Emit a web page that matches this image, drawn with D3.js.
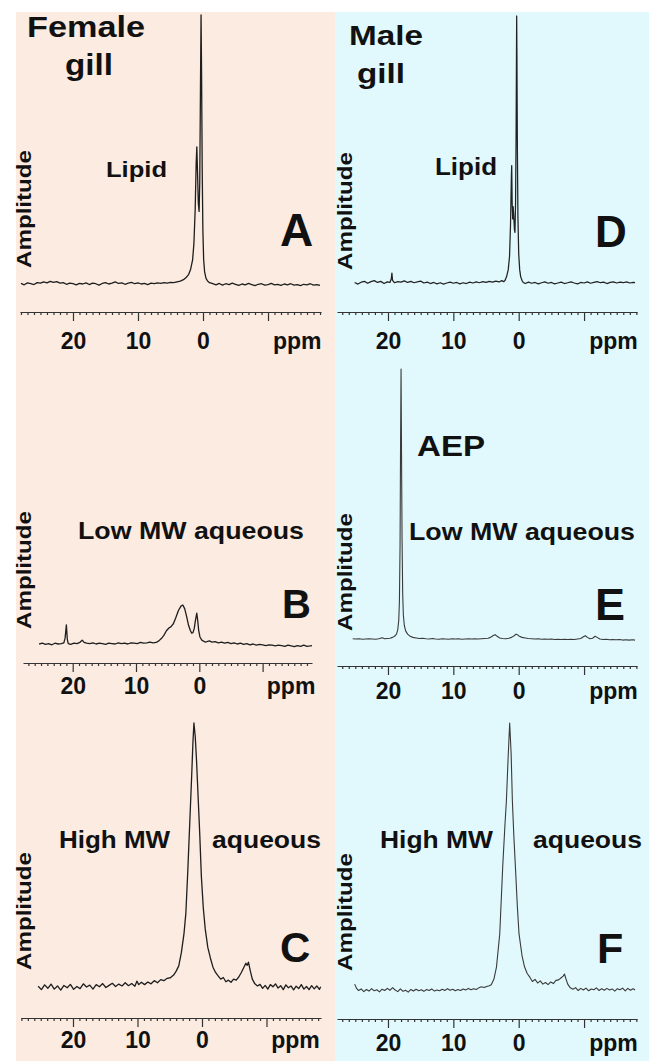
<!DOCTYPE html>
<html>
<head>
<meta charset="utf-8">
<script src="https://cdn.jsdelivr.net/npm/d3@7"></script>
<style>
  body { margin: 0; background: #fff; }
  svg { display: block; }
  text { font-family: "Liberation Sans", Arial, sans-serif; font-weight: bold; fill: #111; }
  .axis path, .axis line { stroke: #333; stroke-width: 1.2; }
</style>
</head>
<body>
<div class="chart"></div>
<script>
// 31P NMR spectra, gill extracts

// DATA -------------------------------
// [ppm, amplitude] with amplitude 0 = baseline, 100 = tallest peak of the panel

const femaleLipid = [[28.0,0.2],[27.5,-0.3],[27.0,0.4],[26.5,0.1],[26.0,-0.2],[25.5,0.5],[25.0,0.3],[24.5,0.8],[24.0,0.4],[23.5,1.0],[23.0,0.6],[22.5,0.9],[22.0,0.3],[21.5,0.5],[21.0,-0.1],[20.5,0.3],[20.0,0.1],[19.5,-0.3],[19.0,0.2],[18.5,0.0],[18.0,0.4],[17.5,-0.2],[17.0,0.3],[16.5,0.1],[16.0,-0.4],[15.5,0.2],[15.0,0.5],[14.5,0.0],[14.0,0.3],[13.5,0.8],[13.0,0.2],[12.5,0.4],[12.0,-0.1],[11.5,0.3],[11.0,0.6],[10.5,0.1],[10.0,0.4],[9.5,0.0],[9.0,0.2],[8.5,-0.2],[8.0,0.3],[7.5,0.1],[7.0,0.4],[6.5,0.2],[6.0,0.5],[5.5,0.3],[5.0,0.6],[4.5,0.5],[4.0,0.8],[3.5,1.1],[3.0,1.6],[2.6,2.4],[2.2,3.6],[1.9,5.5],[1.6,9],[1.4,15],[1.2,28],[1.05,45],[0.95,51],[0.85,42],[0.72,30],[0.6,27],[0.5,38],[0.4,70],[0.3,100],[0.22,78],[0.12,42],[0.02,20],[-0.1,9],[-0.25,4.5],[-0.45,2.2],[-0.7,1.1],[-1.0,0.5],[-1.5,0.1],[-2.0,-0.3],[-2.5,0.2],[-3.0,-0.4],[-3.5,0.1],[-4.0,-0.2],[-4.5,0.3],[-5.0,-0.1],[-5.5,-0.5],[-6.0,0.0],[-6.5,-0.3],[-7.0,0.2],[-7.5,-0.2],[-8.0,-0.6],[-8.5,-0.1],[-9.0,0.1],[-9.5,-0.4],[-10.0,-0.2],[-10.5,0.2],[-11.0,-0.3],[-11.5,-0.1],[-12.0,-0.5],[-12.5,0.0],[-13.0,-0.3],[-13.5,0.1],[-14.0,-0.4],[-14.5,-0.2],[-15.0,-0.6],[-15.5,-0.1],[-16.0,-0.3],[-16.5,0.1],[-17.0,-0.4],[-17.5,-0.2],[-18.0,-0.5]];

const femaleLowMW = [[25.3,0],[24.8,2],[24.3,-1],[23.8,1],[23.3,-2],[22.8,2],[22.3,0],[21.8,1],[21.4,3],[21.2,15],[21.0,49],[20.85,12],[20.7,1],[20.3,-1],[19.8,2],[19.3,1],[18.8,5],[18.5,10],[18.2,4],[17.8,2],[17.3,1],[16.8,3],[16.3,0],[15.8,2],[15.3,1],[14.8,-1],[14.3,2],[13.8,1],[13.3,0],[12.8,3],[12.3,1],[11.8,2],[11.3,0],[10.8,3],[10.3,2],[9.8,1],[9.3,4],[8.8,2],[8.3,3],[7.8,5],[7.3,3],[6.8,4],[6.4,8],[6.0,14],[5.6,22],[5.2,34],[4.8,41],[4.5,44],[4.1,52],[3.7,68],[3.3,86],[2.9,97],[2.6,100],[2.3,90],[2.0,70],[1.7,48],[1.4,34],[1.2,28],[1.0,29],[0.8,40],[0.6,62],[0.4,79],[0.25,60],[0.1,35],[-0.1,18],[-0.4,10],[-0.9,5],[-1.2,6],[-1.6,8],[-2.0,5],[-2.5,6],[-3.0,3],[-3.5,5],[-4.0,2],[-4.5,4],[-5.0,1],[-5.5,3],[-6.0,0],[-6.5,2],[-7.0,-1],[-7.5,1],[-8.0,-2],[-8.5,0],[-9.0,-3],[-9.5,-1],[-10.0,-2],[-10.5,-4],[-11.0,-2],[-11.5,-3],[-12.0,-5],[-12.5,-3],[-13.0,-4],[-13.5,-6],[-14.0,-3],[-14.5,-5],[-15.0,-7],[-15.5,-4],[-16.0,-6],[-16.5,-3],[-17.0,-6],[-17.5,-5],[-17.8,-4]];

const femaleHighMW = [[25.4,0.3],[24.9,-1.0],[24.4,0.8],[23.9,-0.5],[23.4,1.1],[22.9,-0.8],[22.4,0.4],[21.9,-1.2],[21.4,0.6],[20.9,-0.3],[20.4,1.0],[19.9,-0.9],[19.4,0.2],[18.9,-0.6],[18.4,1.2],[17.9,0.0],[17.4,0.7],[16.9,-0.8],[16.4,0.9],[15.9,0.1],[15.4,1.3],[14.9,-0.2],[14.4,0.6],[13.9,1.4],[13.4,0.2],[12.9,1.1],[12.4,0.4],[11.9,1.6],[11.4,0.5],[10.9,1.3],[10.4,0.3],[10.1,2.2],[9.8,0.9],[9.4,1.8],[8.9,0.9],[8.4,1.9],[7.9,1.2],[7.4,2.4],[6.9,1.6],[6.4,2.8],[5.9,2.4],[5.4,3.3],[4.9,3.5],[4.4,4.5],[4.0,6],[3.6,8],[3.2,13],[2.8,20],[2.5,28],[2.2,44],[1.9,62],[1.6,80],[1.4,93],[1.25,100],[1.05,95],[0.85,86],[0.6,72],[0.35,58],[0.1,42],[-0.2,30],[-0.5,22],[-0.9,15],[-1.3,11],[-1.7,7.5],[-2.1,5.5],[-2.5,4.2],[-2.9,3.0],[-3.3,3.6],[-3.7,2.0],[-4.1,2.6],[-4.5,1.8],[-4.9,3.0],[-5.3,2.6],[-5.7,3.8],[-6.1,5.5],[-6.5,7.5],[-6.8,9.0],[-7.0,8.2],[-7.2,9.4],[-7.5,6.0],[-7.8,3.0],[-8.2,1.2],[-8.6,0.4],[-9.0,1.0],[-9.4,-0.5],[-9.8,0.6],[-10.2,-0.8],[-10.6,0.9],[-11.0,0.1],[-11.4,1.2],[-11.8,-0.4],[-12.2,0.5],[-12.6,-1.0],[-13.0,0.8],[-13.4,-0.3],[-13.8,0.4],[-14.2,-1.1],[-14.6,0.3],[-15.0,-0.6],[-15.4,0.9],[-15.8,-0.8],[-16.2,0.2],[-16.6,-1.0],[-17.0,0.5],[-17.4,-0.7],[-17.8,0.4],[-18.2,-0.9],[-18.4,0.1]];

const maleLipid = [[25.1,0.2],[24.6,-0.4],[24.1,0.3],[23.6,0.6],[23.1,-0.1],[22.6,0.5],[22.1,0.9],[21.6,0.2],[21.1,0.6],[20.6,-0.2],[20.1,0.4],[19.7,0.2],[19.5,1.5],[19.4,3.7],[19.3,1.0],[19.0,0.1],[18.5,0.5],[18.0,0.3],[17.5,0.8],[17.0,0.2],[16.5,0.6],[16.0,0.1],[15.5,0.4],[15.0,0.7],[14.5,0.0],[14.0,0.3],[13.5,-0.2],[13.0,0.2],[12.5,-0.3],[12.0,0.1],[11.5,-0.4],[11.0,0.0],[10.5,0.3],[10.0,-0.1],[9.5,0.2],[9.0,-0.3],[8.5,0.1],[8.0,-0.2],[7.5,0.3],[7.0,0.0],[6.5,0.4],[6.0,0.1],[5.5,0.5],[5.0,0.2],[4.5,0.6],[4.0,0.3],[3.5,0.7],[3.0,0.4],[2.6,0.9],[2.3,0.5],[2.1,0.9],[1.85,2.4],[1.6,5],[1.4,10],[1.25,22],[1.12,40],[1.07,44],[1.0,30],[0.92,24],[0.85,28.6],[0.78,26],[0.65,20],[0.57,19],[0.48,30],[0.4,55],[0.34,85],[0.31,100],[0.27,85],[0.2,50],[0.12,25],[0.0,11],[-0.15,5],[-0.3,2.4],[-0.5,1.0],[-0.7,0.2],[-1.0,-0.2],[-1.5,0.3],[-2.0,-0.1],[-2.5,0.2],[-3.0,-0.3],[-3.5,0.1],[-4.0,0.4],[-4.5,-0.1],[-5.0,0.2],[-5.5,-0.3],[-6.0,0.0],[-6.5,0.3],[-7.0,-0.2],[-7.5,0.1],[-8.0,0.4],[-8.5,0.0],[-9.0,-0.3],[-9.5,0.2],[-10.0,0.0],[-10.5,0.4],[-11.0,-0.1],[-11.5,0.2],[-12.0,0.5],[-12.5,0.1],[-13.0,0.3],[-13.5,-0.2],[-14.0,0.2],[-14.5,0.4],[-15.0,0.0],[-15.5,0.3],[-16.0,0.1],[-16.5,0.4],[-17.0,0.0],[-17.5,0.2],[-17.8,0.1]];

const maleLowMW = [[25.4,0.1],[24.9,0.0],[24.4,0.1],[23.9,-0.1],[23.4,0.0],[22.9,0.1],[22.4,0.0],[21.9,-0.1],[21.4,0.1],[20.9,0.5],[20.5,0.1],[20.1,0.2],[19.7,0.3],[19.3,0.6],[19.0,1.0],[18.7,1.8],[18.5,3.5],[18.35,7],[18.25,14],[18.15,35],[18.08,70],[18.0,100],[17.93,70],[17.85,38],[17.75,17],[17.65,9],[17.5,5],[17.3,3],[17.0,1.8],[16.6,1.0],[16.2,0.6],[15.7,0.4],[15.2,0.2],[14.7,0.3],[14.2,0.1],[13.7,0.0],[13.2,0.2],[12.7,0.0],[12.2,-0.1],[11.7,0.1],[11.2,0.0],[10.7,-0.1],[10.2,0.1],[9.7,0.0],[9.2,0.1],[8.7,-0.1],[8.2,0.0],[7.7,0.1],[7.2,0.0],[6.7,0.1],[6.2,0.0],[5.7,0.1],[5.2,0.2],[4.7,0.3],[4.3,0.6],[3.9,1.3],[3.6,1.6],[3.3,1.0],[2.9,0.4],[2.5,0.2],[2.0,0.1],[1.5,0.3],[1.1,0.6],[0.7,1.2],[0.4,1.8],[0.2,1.6],[-0.1,1.0],[-0.5,0.6],[-1.0,0.4],[-1.5,0.2],[-2.0,0.1],[-2.5,0.0],[-3.0,0.1],[-3.5,-0.1],[-4.0,0.0],[-4.5,-0.1],[-5.0,0.0],[-5.5,-0.2],[-6.0,-0.1],[-6.5,-0.2],[-7.0,-0.1],[-7.5,-0.2],[-8.0,-0.1],[-8.5,-0.2],[-9.0,0.0],[-9.5,0.2],[-9.9,0.8],[-10.2,1.2],[-10.5,0.6],[-10.9,0.1],[-11.3,0.3],[-11.7,1.0],[-12.0,0.6],[-12.4,0.0],[-12.9,-0.2],[-13.4,-0.1],[-13.9,-0.3],[-14.4,-0.2],[-14.9,-0.3],[-15.4,-0.2],[-15.9,-0.4],[-16.4,-0.3],[-16.9,-0.4],[-17.4,-0.3],[-17.8,-0.4]];

const maleHighMW = [[25.1,2.2],[24.8,0.6],[24.5,-0.2],[24.1,0.4],[23.7,-0.6],[23.3,0.2],[22.9,-0.4],[22.5,0.5],[22.1,-0.3],[21.7,0.1],[21.3,-0.7],[20.9,0.3],[20.5,-0.2],[20.1,0.6],[19.7,-0.1],[19.3,0.9],[18.9,0.0],[18.5,-0.6],[18.1,0.4],[17.7,-0.5],[17.3,-0.1],[16.9,-0.8],[16.5,0.2],[16.1,-0.4],[15.7,0.3],[15.3,-0.3],[14.9,0.1],[14.5,-0.5],[14.1,0.2],[13.7,-0.2],[13.3,0.4],[12.9,-0.4],[12.5,0.0],[12.1,-0.3],[11.7,0.3],[11.3,-0.2],[10.9,0.5],[10.5,-0.1],[10.1,0.3],[9.7,-0.3],[9.3,0.2],[8.9,-0.2],[8.5,0.4],[8.1,0.0],[7.7,0.6],[7.3,0.1],[6.9,0.5],[6.5,0.2],[6.1,0.8],[5.7,1.2],[5.3,0.9],[4.9,1.3],[4.5,1.6],[4.2,2.0],[3.8,4],[3.4,8.6],[2.9,21],[2.45,46],[2.1,62],[1.88,71],[1.6,88],[1.38,100],[1.15,88],[0.97,71],[0.75,58],[0.5,46],[0.2,31],[-0.05,21],[-0.5,13],[-0.9,8.6],[-1.3,6.2],[-1.7,4.8],[-2.1,3.2],[-2.5,4.0],[-2.9,2.6],[-3.3,3.4],[-3.7,2.2],[-4.1,2.8],[-4.5,2.0],[-4.9,3.0],[-5.3,2.4],[-5.7,3.6],[-6.1,3.8],[-6.5,4.6],[-6.8,5.2],[-7.0,6.0],[-7.2,4.4],[-7.5,2.2],[-7.9,0.8],[-8.3,0.3],[-8.7,0.9],[-9.1,-0.2],[-9.5,0.6],[-9.9,0.0],[-10.3,0.7],[-10.7,-0.3],[-11.1,0.4],[-11.5,0.1],[-11.9,0.8],[-12.3,-0.2],[-12.7,0.5],[-13.1,-0.1],[-13.5,0.6],[-13.9,0.0],[-14.3,0.4],[-14.7,-0.4],[-15.1,0.5],[-15.5,0.1],[-15.9,0.7],[-16.3,-0.3],[-16.7,0.6],[-17.1,-0.1],[-17.5,0.5],[-17.8,0.0]];

const majorTicks = [20, 10, 0, -10];
const tickLabels = {"20": "20", "10": "10", "0": "0"};
const unitLabel = "ppm";

// LAYOUT -----------------------------

const W = 649, H = 1061;
const bgFemale = "#fbebe1", bgMale = "#e1f9fc";

const panels = [
  {letter: "A", data: femaleLipid, ppm: [28.15, -18.15], px: [20, 321], base: 284, top: 15, axisY: 312, pad: 12, stroke: "#1e1e1e", sw: 1.3,
   amp: [31, 209], letterPos: [280, 246, 46],
   labels: [{t: "Female", x: 27, y: 37, s: 29, len: 118}, {t: "gill", x: 65, y: 75, s: 29, len: 48}, {t: "Lipid", x: 106, y: 177, s: 22, len: 61}]},
  {letter: "B", data: femaleLowMW, ppm: [27.85, -17.8], px: [23, 312], base: 644, top: 605, axisY: 663, pad: 6, stroke: "#1e1e1e", sw: 1.3,
   amp: [31, 570], letterPos: [282, 618, 40],
   labels: [{t: "Low MW aqueous", x: 78, y: 539, s: 24, len: 226}]},
  {letter: "C", data: femaleHighMW, ppm: [28.06, -18.45], px: [21, 321], base: 987, top: 723, axisY: 1018, pad: 5, stroke: "#1e1e1e", sw: 1.3,
   amp: [31, 911], letterPos: [280, 962, 42],
   labels: [{t: "High MW", x: 59, y: 848, s: 23, len: 111}, {t: "aqueous", x: 212, y: 848, s: 23, len: 109}]},
  {letter: "D", data: maleLipid, ppm: [27.8, -18.1], px: [337, 637], base: 283, top: 16, axisY: 312, pad: 12, stroke: "#222", sw: 1.25,
   amp: [352, 211], letterPos: [595, 247, 44],
   labels: [{t: "Male", x: 349, y: 45, s: 28, len: 74}, {t: "gill", x: 357, y: 83, s: 28, len: 48}, {t: "Lipid", x: 435, y: 175, s: 24, len: 62}]},
  {letter: "E", data: maleLowMW, ppm: [27.8, -18.1], px: [337, 637], base: 639, top: 369, axisY: 666, pad: 8, stroke: "#3a3a3a", sw: 1.1,
   amp: [352, 572], letterPos: [595, 620, 45],
   labels: [{t: "AEP", x: 417, y: 456, s: 29, len: 68}, {t: "Low MW aqueous", x: 409, y: 540, s: 24, len: 226}]},
  {letter: "F", data: maleHighMW, ppm: [27.8, -18.1], px: [337, 637], base: 990, top: 723, axisY: 1019, pad: 7, stroke: "#3a3a3a", sw: 1.1,
   amp: [352, 912], letterPos: [597, 963, 43],
   labels: [{t: "High MW", x: 380, y: 848, s: 23, len: 113}, {t: "aqueous", x: 533, y: 848, s: 23, len: 109}]}
];

const svg = d3.select(".chart")
  .append("svg")
  .attr("width", W)
  .attr("height", H);

svg.append("rect").attr("x", 16).attr("y", 12).attr("width", 319).attr("height", H - 12).attr("fill", bgFemale);
svg.append("rect").attr("x", 335).attr("y", 12).attr("width", W - 335).attr("height", H - 12).attr("fill", bgMale);

// PANELS -----------------------------

panels.forEach(p => {
  const g = svg.append("g").attr("class", "panel-" + p.letter);

  const x = d3.scaleLinear().domain(p.ppm).range(p.px);
  const y = d3.scaleLinear().domain([0, 100]).range([p.base, p.top]);

  const lo = Math.ceil(Math.min(...p.ppm)), hi = Math.floor(Math.max(...p.ppm));
  const minor = d3.range(lo, hi + 1).filter(v => v % 10 !== 0);

  const minorAxis = d3.axisBottom(x)
    .tickValues(minor)
    .tickSize(3)
    .tickSizeOuter(0)
    .tickFormat("");

  const majorAxis = d3.axisBottom(x)
    .tickValues(majorTicks)
    .tickSize(9)
    .tickSizeOuter(0)
    .tickPadding(p.pad)
    .tickFormat(d => tickLabels[d] || "");

  g.append("g")
    .attr("class", "axis minor")
    .attr("transform", `translate(0,${p.axisY})`)
    .call(minorAxis);

  g.append("g")
    .attr("class", "axis major")
    .attr("transform", `translate(0,${p.axisY})`)
    .call(majorAxis)
    .call(a => a.select(".domain").remove())
    .selectAll("text")
    .attr("font-size", 23)
    .attr("font-family", null)
    .attr("fill", "#111");

  g.append("text")
    .attr("x", x(-14.5))
    .attr("y", p.axisY + 9 + p.pad)
    .attr("dy", "0.71em")
    .attr("text-anchor", "middle")
    .attr("font-size", 23)
    .text(unitLabel);

  const line = d3.line()
    .x(d => x(d[0]))
    .y(d => y(d[1]));

  g.append("path")
    .datum(p.data)
    .attr("fill", "none")
    .attr("stroke", p.stroke)
    .attr("stroke-width", p.sw)
    .attr("stroke-linejoin", "round")
    .attr("d", line);

  g.append("text")
    .attr("transform", `translate(${p.amp[0]},${p.amp[1]}) rotate(-90)`)
    .attr("text-anchor", "middle")
    .attr("font-size", 21)
    .attr("textLength", 118)
    .attr("lengthAdjust", "spacingAndGlyphs")
    .text("Amplitude");

  g.append("text")
    .attr("x", p.letterPos[0])
    .attr("y", p.letterPos[1])
    .attr("font-size", p.letterPos[2])
    .text(p.letter);

  g.selectAll(".note")
    .data(p.labels)
    .enter()
    .append("text")
    .attr("class", "note")
    .attr("x", d => d.x)
    .attr("y", d => d.y)
    .attr("font-size", d => d.s)
    .attr("textLength", d => d.len)
    .attr("lengthAdjust", "spacingAndGlyphs")
    .text(d => d.t);
});
</script>
</body>
</html>
